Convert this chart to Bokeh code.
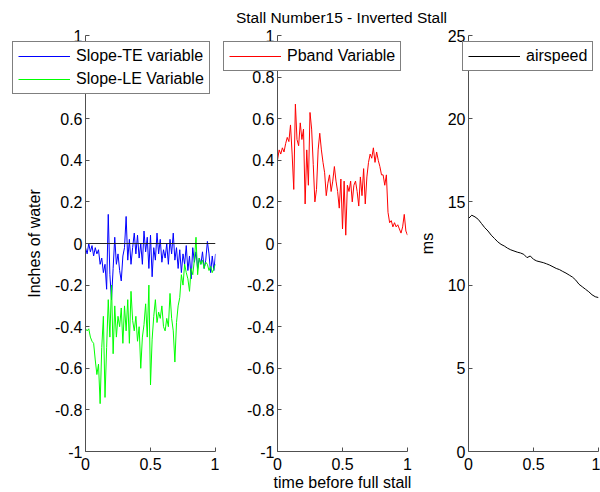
from bokeh.plotting import figure
from bokeh.models import (Range1d, FixedTicker, Legend, LegendItem, GridBox, Label)
from bokeh.layouts import row, column
from bokeh.embed import file_html
from bokeh.resources import INLINE
import numpy as np

# ---------------- data ----------------
title_text = "Stall Number15 - Inverted Stall"
x_label = "time before full stall"
left_y_label = "Inches of water"
right_y_label = "ms"

slope_te = [-0.02, -0.05, 0.0, -0.04, -0.01, -0.06, -0.02, -0.05, -0.03, -0.1,
            -0.07, -0.14, -0.1, -0.22, 0.14, -0.15, -0.27, -0.12, 0.03, -0.1,
            -0.05, -0.13, -0.18, -0.06, -0.02, 0.13, -0.08, 0.02, -0.1, -0.02,
            0.05, -0.05, 0.04, -0.07, 0.0, -0.1, 0.06, -0.04, 0.03, -0.12,
            0.04, -0.16, -0.02, -0.08, 0.05, -0.05, 0.02, -0.09, -0.03, -0.07,
            0.0, -0.1, 0.02, -0.05, 0.05, -0.08, -0.02, -0.12, -0.03, -0.14,
            -0.05, -0.1, -0.01, -0.13, -0.06, -0.17, -0.02, -0.09, -0.04, -0.12,
            -0.07, -0.1, -0.04, -0.12, -0.08, 0.01, -0.05, -0.14, -0.06, -0.13,
            -0.05]
slope_le = [-0.41, -0.42, -0.41, -0.45, -0.47, -0.48, -0.56, -0.63, -0.58, -0.77,
            -0.5, -0.35, -0.74, -0.5, -0.27, -0.45, -0.2, -0.53, -0.3, -0.45,
            -0.35, -0.4, -0.31, -0.48, -0.3, -0.42, -0.27, -0.48, -0.23, -0.37,
            -0.42, -0.35, -0.47, -0.4, -0.6, -0.45, -0.39, -0.29, -0.45, -0.2,
            -0.68, -0.46, -0.35, -0.27, -0.38, -0.33, -0.36, -0.3, -0.4, -0.42,
            -0.36, -0.4, -0.24, -0.36, -0.42, -0.57, -0.38, -0.3, -0.26, -0.15,
            -0.2, -0.1, -0.14, -0.17, -0.23, -0.12, -0.15, -0.08, 0.03, -0.15,
            -0.07, -0.1, -0.08, -0.12, -0.09, -0.1, -0.13, -0.11, -0.14, -0.12,
            -0.1]
pband = [0.40, 0.45, 0.43, 0.46, 0.44, 0.48, 0.51, 0.49, 0.57, 0.43,
         0.26, 0.67, 0.5, 0.47, 0.58, 0.5, 0.55, 0.19, 0.45, 0.28,
         0.63, 0.55, 0.38, 0.2, 0.26, 0.45, 0.53, 0.45, 0.39, 0.34,
         0.23, 0.29, 0.33, 0.25, 0.3, 0.37, 0.3, 0.25, 0.17, 0.31,
         0.07, 0.3, 0.04, 0.28, 0.25, 0.3, 0.2, 0.28, 0.3, 0.25,
         0.18, 0.32, 0.23, 0.36, 0.19, 0.32, 0.39, 0.43, 0.41, 0.46,
         0.39, 0.44, 0.4, 0.37, 0.33, 0.33, 0.28, 0.33, 0.15, 0.1,
         0.11, 0.08, 0.1, 0.08, 0.09, 0.07, 0.05, 0.08, 0.14, 0.06,
         0.04]
airspeed = [14.0, 14.2, 14.1, 13.95, 13.7, 13.45, 13.25, 13.0, 12.8, 12.6,
            12.45, 12.35, 12.22, 12.12, 12.05, 11.98, 11.93, 11.85, 11.65, 11.75,
            11.55, 11.45, 11.4, 11.35, 11.28, 11.2, 11.1, 11.0, 10.93, 10.82,
            10.72, 10.6, 10.48, 10.3, 10.05, 9.9, 9.75, 9.6, 9.42, 9.3,
            9.25]
t_fast = np.linspace(0, 1, len(slope_te))
t_slow = np.linspace(0, 1, len(airspeed))
zero_x = [0, 1]
zero_y = [0, 0]

x_ticks = [0, 0.5, 1]
x_tick_labels = ["0", "0.5", "1"]
p_ticks = [-1, -0.8, -0.6, -0.4, -0.2, 0, 0.2, 0.4, 0.6, 0.8, 1]
p_tick_labels = ["-1", "-0.8", "-0.6", "-0.4", "-0.2", "0", "0.2", "0.4", "0.6", "0.8", "1"]
v_ticks = [0, 5, 10, 15, 20, 25]
v_tick_labels = ["0", "5", "10", "15", "20", "25"]

# ---------------- style ----------------
FONT = "Liberation Sans"
FS = "16px"
AX = "#505050"
TXT = "#000000"
W, H = 600, 492
TOP = 35
BOTTOM = 41


def make_fig(width, left, right, y0, y1, yticks, ylabels):
    p = figure(width=width, height=H, output_backend="svg", toolbar_location=None,
               x_range=Range1d(0, 1), y_range=Range1d(y0, y1),
               min_border_left=left, min_border_right=right,
               min_border_top=TOP, min_border_bottom=BOTTOM)
    p.outline_line_color = None
    p.xgrid.visible = False
    p.ygrid.visible = False
    p.background_fill_color = "white"
    p.border_fill_color = "white"
    for ax in p.axis:
        ax.axis_line_color = AX
        ax.major_tick_line_color = AX
        ax.minor_tick_line_color = None
        ax.major_tick_in = 4
        ax.major_tick_out = 0
        ax.major_label_text_font = FONT
        ax.major_label_text_font_size = FS
        ax.major_label_text_color = TXT
        ax.axis_label_text_font = FONT
        ax.axis_label_text_font_size = FS
        ax.axis_label_text_font_style = "normal"
        ax.axis_label_text_color = TXT
    p.xaxis.ticker = FixedTicker(ticks=x_ticks)
    p.xaxis.major_label_overrides = dict(zip(x_ticks, x_tick_labels))
    p.xaxis.major_label_standoff = 6
    p.yaxis.ticker = FixedTicker(ticks=yticks)
    p.yaxis.major_label_overrides = dict(zip(yticks, ylabels))
    p.yaxis.major_label_standoff = 3
    return p


# left plot
p1 = make_fig(219, 85, 4, -1, 1, p_ticks, p_tick_labels)
p1.yaxis.axis_label = left_y_label
p1.yaxis.axis_label_standoff = 9
p1.line(t_fast, slope_te, line_color="#0000ff", line_width=1)
p1.line(t_fast, slope_le, line_color="#00ff00", line_width=1)
p1.line(zero_x, zero_y, line_color="#222222", line_width=1)

# middle plot
p2 = make_fig(196, 58, 8, -1, 1, p_ticks, p_tick_labels)
p2.line(t_fast, pband, line_color="#ff0000", line_width=1)

# right plot
p3 = make_fig(185, 53, 2, 0, 25, v_ticks, v_tick_labels)
p3.yaxis.axis_label = right_y_label
p3.yaxis.axis_label_standoff = 9
p3.line(t_slow, airspeed, line_color="#000000", line_width=1)

# transparent overlay carrying legends, title and shared x label
ov = figure(width=W, height=H, output_backend="svg", toolbar_location=None,
            x_range=Range1d(0, 1), y_range=Range1d(0, 1),
            x_axis_location=None, y_axis_location=None,
            min_border_left=0, min_border_right=0, min_border_top=0, min_border_bottom=0)
ov.xgrid.visible = False
ov.ygrid.visible = False
ov.outline_line_color = None
ov.background_fill_color = None
ov.border_fill_color = None

# single-sample line renderers (draw nothing themselves) that give the legend its glyphs
lg_te = ov.line(t_fast[:1], slope_te[:1], line_color="#0000ff", line_width=1)
lg_le = ov.line(t_fast[:1], slope_le[:1], line_color="#00ff00", line_width=1)
lg_pb = ov.line(t_fast[:1], pband[:1], line_color="#ff0000", line_width=1)
lg_as = ov.line(t_slow[:1], airspeed[:1], line_color="#000000", line_width=1)


def make_legend(items, x, y):
    return Legend(items=items, location=(x, y), orientation="vertical",
                  border_line_color="black", border_line_width=1,
                  background_fill_color="white", background_fill_alpha=1,
                  label_text_font=FONT, label_text_font_size=FS, label_text_color=TXT,
                  glyph_width=52, glyph_height=18, label_height=18,
                  spacing=5, padding=5, label_standoff=6, margin=0)


ov.add_layout(make_legend([LegendItem(label="Slope-TE variable", renderers=[lg_te]),
                           LegendItem(label="Slope-LE Variable", renderers=[lg_le])], 12, 398))
ov.add_layout(make_legend([LegendItem(label="Pband Variable", renderers=[lg_pb])], 223, 421))
ov.add_layout(make_legend([LegendItem(label="airspeed", renderers=[lg_as])], 462, 421))

ov.add_layout(Label(x=341, y=H - 17, x_units="screen", y_units="screen", text=title_text,
                    text_align="center", text_baseline="middle",
                    text_font=FONT, text_font_size="15.5px", text_color=TXT))
ov.add_layout(Label(x=342, y=10, x_units="screen", y_units="screen", text=x_label,
                    text_align="center", text_baseline="middle",
                    text_font=FONT, text_font_size=FS, text_color=TXT))

plots = row(p1, p2, p3, spacing=0)
overlay = column(ov, spacing=0)
layout = GridBox(children=[(plots, 0, 0), (overlay, 0, 0)], spacing=0)

open("out.html", "w").write(file_html(layout, INLINE))
